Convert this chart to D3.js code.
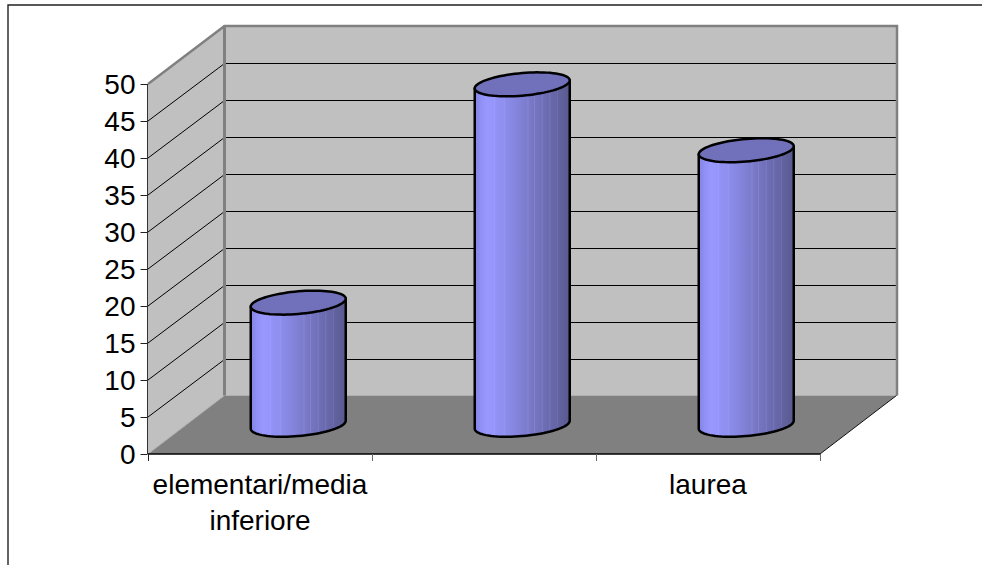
<!DOCTYPE html>
<html>
<head>
<meta charset="utf-8">
<script src="https://cdn.jsdelivr.net/npm/d3@7/dist/d3.min.js"></script>
<style>
html,body{margin:0;padding:0;background:#fff}
svg{display:block}
text{font-family:"Liberation Sans",Arial,sans-serif;font-size:28px;fill:#000}
</style>
</head>
<body>
<svg id="chart" width="982" height="565"></svg>
<script>
// Education level categories, one entry per text line
const categoryLines = [["elementari/media", "inferiore"], [""], ["laurea"]];
const categoryKeys = ["a", "b", "c"];
const seriesValues = [16.5, 46, 37.1];
const yTicks = [0, 5, 10, 15, 20, 25, 30, 35, 40, 45, 50];

const svg = d3.select("#chart");
const W = 982, H = 565;

// Front plane of the 3D box and the shift to its back plane
const y = d3.scaleLinear().domain([0, 50]).range([454, 84]);
const x = d3.scaleBand().domain(categoryKeys).range([148, 820]);
const depthX = 76.5, depthY = -58.5;
const gridShift = 1; // keeps the back-wall rules on whole pixel rows
const [x0, x1] = x.range();
const yBase = y(0), yTop = y(50);

// Chart frame: only the top and left edges fall inside the window
svg.append("path")
  .attr("d", `M${W},5H8V${H}`)
  .attr("fill", "none").attr("stroke", "#222").attr("stroke-width", 1.4);

const poly = pts => "M" + pts.map(p => p.join(",")).join("L") + "Z";

// Walls and floor
svg.append("path").attr("fill", "#c0c0c0").attr("d", poly([
  [x0 + depthX, yTop + depthY], [x1 + depthX, yTop + depthY],
  [x1 + depthX, yBase + depthY], [x0 + depthX, yBase + depthY]]));
svg.append("path").attr("fill", "#c0c0c0").attr("d", poly([
  [x0, yTop], [x0 + depthX, yTop + depthY], [x0 + depthX, yBase + depthY], [x0, yBase]]));
svg.append("path").attr("fill", "#808080").attr("d", poly([
  [x0, yBase], [x0 + depthX, yBase + depthY], [x1 + depthX, yBase + depthY], [x1, yBase]]));

// Gridlines on the side and back walls
const inner = yTicks.filter(t => t > 0 && t < 50);
svg.append("g").selectAll("path").data(inner).join("path")
  .attr("fill", "none").attr("stroke", "#000").attr("stroke-width", 1)
  .attr("d", t => `M${x0},${y(t)}L${x0 + depthX},${y(t) + depthY + gridShift}H${x1 + depthX}`);
svg.append("path")
  .attr("d", `M${x0},${yBase}L${x0 + depthX},${yBase + depthY}`)
  .attr("fill", "none").attr("stroke", "#aaa").attr("stroke-width", 1);

// Grey edges of the box
svg.append("path")
  .attr("d", `M${x0},${yTop}L${x0 + depthX},${yTop + depthY + 0.5}H${x1 + depthX + 0.5}V${yBase + depthY}`)
  .attr("fill", "none").attr("stroke", "#808080").attr("stroke-width", 2.5);
svg.append("path")
  .attr("d", `M${x0 + depthX},${yTop + depthY}V${yBase + depthY}`)
  .attr("fill", "none").attr("stroke", "#808080").attr("stroke-width", 3);
svg.append("path")
  .attr("d", `M${x1},${yBase}L${x1 + depthX},${yBase + depthY}`)
  .attr("fill", "none").attr("stroke", "#111").attr("stroke-width", 1);

// Banded shading around the cylinder surface
const defs = svg.append("defs");
const bandStops = [
  [0, "#8484e6"], [0.06, "#8f8ff4"], [0.13, "#9898ff"], [0.2, "#9595fb"], [0.21, "#9c9cff"], [0.22, "#9292f6"],
  [0.3, "#8f8ff0"], [0.31, "#9797f3"], [0.32, "#8c8cec"], [0.42, "#8686e0"], [0.5, "#7f7fd4"],
  [0.55, "#7c7ccc"], [0.56, "#8888d4"], [0.57, "#7a7aca"], [0.62, "#7676c4"], [0.63, "#8282cc"], [0.64, "#7474c0"],
  [0.7, "#7070ba"], [0.71, "#7c7cc4"], [0.72, "#6e6eb6"], [0.78, "#6a6ab0"], [0.79, "#7676b8"], [0.8, "#6868ac"],
  [0.86, "#6464a6"], [0.87, "#6e6eac"], [0.88, "#62629f"], [0.94, "#5e5e98"], [1, "#585890"]
];
const grad = defs.append("linearGradient").attr("id", "cyl")
  .attr("x1", 0).attr("x2", 1).attr("y1", 0).attr("y2", 0);
grad.selectAll("stop").data(bandStops).join("stop")
  .attr("offset", d => d[0]).attr("stop-color", d => d[1]);

// Cylinders stand at mid depth of the floor
const radiusX = 47.5, radiusY = 11.3, tilt = 4;
const midX = d => x(d) + x.bandwidth() / 2 + depthX / 2;
const midY = v => y(v) + depthY / 2;

const bars = svg.append("g").selectAll("g").data(categoryKeys).join("g");
bars.append("path")
  .attr("fill", "url(#cyl)").attr("stroke", "#000").attr("stroke-width", 2.5).attr("stroke-linejoin", "round")
  .attr("d", (k, i) => {
    const cx = midX(k), top = midY(seriesValues[i]), bot = midY(0);
    const arc = d3.range(0, 41).map(j => {
      const t = Math.PI * j / 40;
      return [cx - radiusX * Math.cos(t), bot + radiusY * Math.sin(t) + tilt * Math.cos(t)];
    });
    return "M" + [[cx - radiusX, top + tilt], ...arc, [cx + radiusX, top - tilt]].map(p => p.join(",")).join("L") + "Z";
  });
bars.append("path")
  .attr("fill", "#7171bb").attr("stroke", "#000").attr("stroke-width", 2.5)
  .attr("d", (k, i) => {
    const cx = midX(k), top = midY(seriesValues[i]);
    const ring = d3.range(0, 80).map(j => {
      const t = 2 * Math.PI * j / 80;
      return [cx - radiusX * Math.cos(t), top + radiusY * Math.sin(t) + tilt * Math.cos(t)];
    });
    return "M" + ring.map(p => p.join(",")).join("L") + "Z";
  });

// Value axis
const yAxis = svg.append("g").attr("transform", `translate(${x0 - 0.5},0)`)
  .call(d3.axisLeft(y).tickValues(yTicks).tickSize(7).tickPadding(5));
yAxis.selectAll("path.domain").attr("stroke", "#333").attr("d", `M0,${yTop}V${yBase}`);
yAxis.selectAll("line").attr("stroke", "#222");
yAxis.selectAll("text").attr("y", 1);
yAxis.attr("font-size", null).attr("font-family", null);

// Category axis with ticks at the band edges
const edges = categoryKeys.map(k => x(k)).concat([x1]);
svg.append("path").attr("d", `M${x0},${yBase}H${x1}`).attr("stroke", "#000").attr("stroke-width", 1.5);
svg.append("g").selectAll("line").data(edges).join("line")
  .attr("x1", d => d + 0.5).attr("x2", d => d + 0.5)
  .attr("y1", yBase).attr("y2", yBase + 7)
  .attr("stroke", (d, i) => i === 0 ? "#222" : "#666");

svg.append("g").selectAll("text").data(categoryKeys).join("text")
  .attr("text-anchor", "middle")
  .attr("transform", k => `translate(${x(k) + x.bandwidth() / 2},494)`)
  .each(function (k, i) {
    d3.select(this).selectAll("tspan").data(categoryLines[i]).join("tspan")
      .attr("x", 0).attr("dy", (d, j) => j ? 36 : 0).text(d => d);
  });
</script>
</body>
</html>
